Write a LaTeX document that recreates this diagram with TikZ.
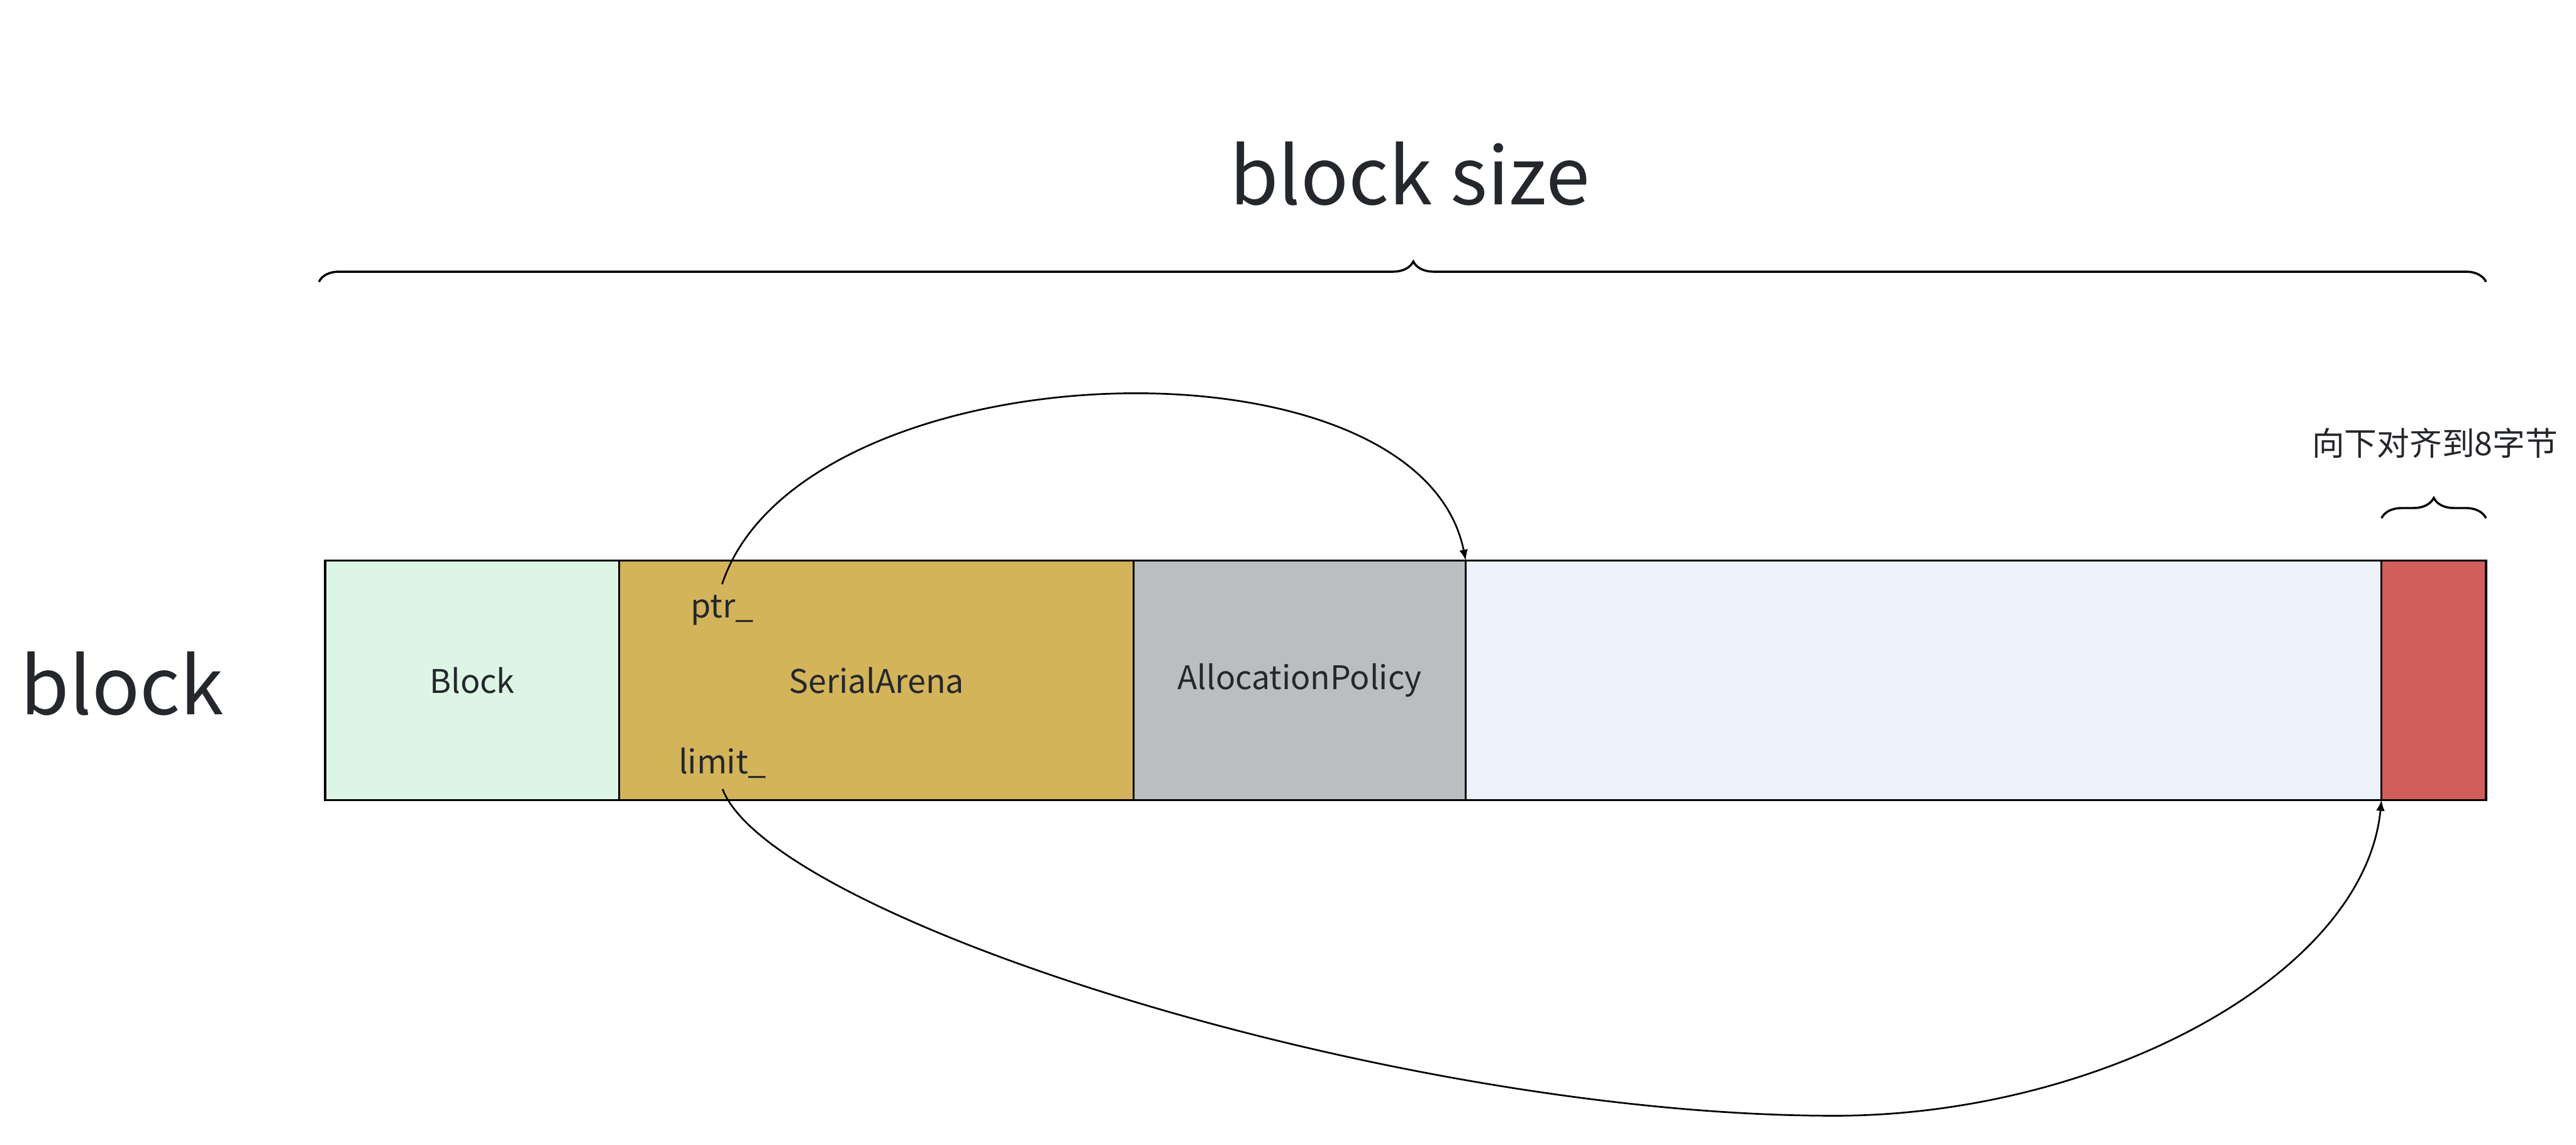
\documentclass[tikz,border=0pt]{standalone}
\usepackage{fontspec}
\setmainfont{Noto Sans CJK SC}
\usetikzlibrary{arrows.meta,positioning,decorations.pathreplacing}
\definecolor{txt}{HTML}{24272B}
\definecolor{blkf}{HTML}{DDF5E5}
\definecolor{arenaf}{HTML}{D4B45A}
\definecolor{polf}{HTML}{BBBEC1}
\definecolor{freef}{HTML}{EEF2FB}
\definecolor{tailf}{HTML}{D25E5B}
\tikzset{
  seg/.style={draw=black,line width=0.7pt,minimum height=2.715cm,inner sep=0pt,outer sep=0pt,anchor=west,font=\fontsize{10.5}{12}\selectfont,text=txt},
  fld/.style={font=\fontsize{10.5}{12}\selectfont,text=txt,anchor=base},
  big/.style={font=\fontsize{25.5}{30}\selectfont,text=txt,anchor=base},
  brc/.style={decorate,decoration={brace,amplitude=0.23cm},line width=0.7pt},
  ptrl/.style={-{Latex[length=3.5pt,width=2.8pt]},line width=0.55pt}
}

\begin{document}
\begin{tikzpicture}[x=1cm,y=1cm]
\useasboundingbox (0,0) rectangle (29.2,12.98);
% ================= the block, left to right =================
\node[seg,fill=blkf,minimum width=3.335cm] (blk) at (3.685,5.2675) {Block};
\node[seg,fill=arenaf,minimum width=5.83cm,right=0pt of blk] (arena) {SerialArena};
\node[seg,fill=polf,minimum width=3.765cm,right=0pt of arena] (policy) {AllocationPolicy};
\node[seg,fill=freef,minimum width=10.38cm,right=0pt of policy] (free) {};
\node[seg,fill=tailf,minimum width=1.185cm,right=0pt of free] (tail) {};
\node[big] (blabel) at (1.385,4.88) {block};
% fields of SerialArena
\node[fld] (ptr) at (8.185,5.975) {ptr\_};
\node[fld] (lim) at (8.19,4.21) {limit\_};
% ================= braces =================
\draw[brc,decoration={aspect=0.505}] ([xshift=-0.07cm,yshift=3.16cm]blk.north west) -- ([yshift=3.16cm]tail.north east);
\node[big] (bsize) at (15.98,10.66) {block size};
\draw[brc] ([yshift=0.48cm]tail.north west) -- ([yshift=0.48cm]tail.north east);
\node[font=\fontsize{10.5}{12}\selectfont,text=txt] (align) at (27.6,7.955) {向下对齐到8字节};
% ================= pointers =================
\coordinate (low) at (20.795,0.33);
\draw[ptrl] (ptr.north) .. controls (9.07,9.04) and (16.07,9.30) .. (policy.north east);
\draw[ptrl] (lim.south) .. controls (8.753,2.566) and (15.795,0.33) .. (low)
            .. controls (23.795,0.33) and (26.8,1.92) .. (free.south east);
\end{tikzpicture}
\end{document}
